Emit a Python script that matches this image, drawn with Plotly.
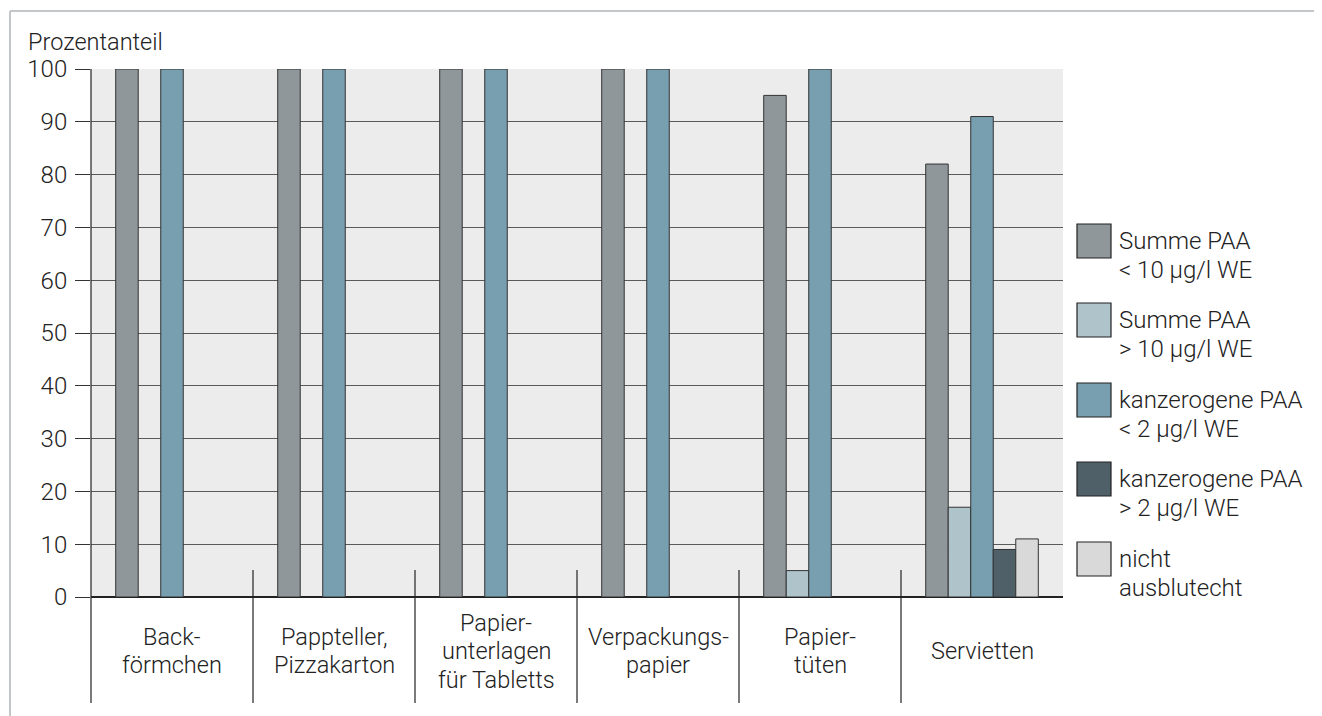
import plotly.graph_objects as go

categories = ["Back-\nförmchen", "Pappteller,\nPizzakarton", "Papier-\nunterlagen\nfür Tabletts",
              "Verpackungs-\npapier", "Papier-\ntüten", "Servietten"]
series_names = ["Summe PAA\n< 10 µg/l WE", "Summe PAA\n> 10 µg/l WE", "kanzerogene PAA\n< 2 µg/l WE",
                "kanzerogene PAA\n> 2 µg/l WE", "nicht\nausblutecht"]
summe_lt10 = [100, 100, 100, 100, 95, 82]
summe_gt10 = [None, None, None, None, 5, 17]
kanz_lt2 = [100, 100, 100, 100, 100, 91]
kanz_gt2 = [None, None, None, None, None, 9]
nicht_ausblutecht = [None, None, None, None, None, 11]
series_values = [summe_lt10, summe_gt10, kanz_lt2, kanz_gt2, nicht_ausblutecht]
colors = ["#8f979a", "#afc3cb", "#789faf", "#4f6068", "#d9d9d9"]
y_ticks = [0, 10, 20, 30, 40, 50, 60, 70, 80, 90, 100]

W, H = 1322, 716
OFF = 8  # page body margin
L, R, T, B = 91 - OFF, 1063 - OFF, 69 - OFF, 597 - OFF
pw, ph = R - L, B - T
FONT = "Roboto"
TXT = "#222222"

def px(x):
    return (x - OFF - L) / pw

def py(y):
    return (B - (y - OFF)) / ph

cat_keys = [c.replace("\n", " ") for c in categories]

fig = go.Figure()
for name, vals, col in zip(series_names, series_values, colors):
    fig.add_trace(go.Bar(
        x=cat_keys, y=vals, name=name.replace("\n", " "),
        marker=dict(color=col, line=dict(color="#333333", width=1)),
        showlegend=False,
    ))

shapes = []
annotations = []

# outer frame (top and left)
shapes.append(dict(type="line", xref="paper", yref="paper", x0=px(10), x1=px(W + 20), y0=py(11), y1=py(11),
                   line=dict(color="#c3c7c9", width=2)))
shapes.append(dict(type="line", xref="paper", yref="paper", x0=px(10), x1=px(10), y0=py(11), y1=py(H + 20),
                   line=dict(color="#c3c7c9", width=2)))

# category dividers
n = len(categories)
shapes.append(dict(type="line", xref="paper", yref="paper", x0=0, x1=0, y0=1, y1=py(703),
                   line=dict(color="#222222", width=1.2)))
for i in range(1, n):
    shapes.append(dict(type="line", xref="paper", yref="paper", x0=i / n, x1=i / n, y0=py(570), y1=py(703),
                       line=dict(color="#222222", width=1.2)))

# category labels
for i, c in enumerate(categories):
    lines = c.split("\n")
    k = len(lines)
    for j, ln in enumerate(lines):
        cy = 651 + (j - (k - 1) / 2) * 28.5
        annotations.append(dict(text=ln, xref="paper", yref="paper", x=(i + 0.5) / n, y=py(cy),
                                xanchor="center", yanchor="middle", showarrow=False,
                                font=dict(family=FONT, size=23.5, color=TXT, weight=300)))

# custom legend
box_tops = [224, 303, 383, 462, 542]
for name, col, top in zip(series_names, colors, box_tops):
    shapes.append(dict(type="rect", xref="paper", yref="paper", x0=px(1077), x1=px(1111),
                       y0=py(top), y1=py(top + 34), fillcolor=col, line=dict(color="#222222", width=1.2)))
    for j, ln in enumerate(name.split("\n")):
        annotations.append(dict(text=ln, xref="paper", yref="paper", x=px(1117), y=py(top + 17 + j * 29),
                                xanchor="left", yanchor="middle", showarrow=False,
                                font=dict(family=FONT, size=24, color=TXT, weight=300)))

# y-axis title
annotations.append(dict(text="Prozentanteil", xref="paper", yref="paper", x=px(26), y=py(42),
                        xanchor="left", yanchor="middle", showarrow=False,
                        font=dict(family=FONT, size=23.5, color=TXT, weight=300)))

fig.update_layout(
    width=W, height=H,
    margin=dict(l=L, r=W - R, t=T, b=H - B),
    paper_bgcolor="white", plot_bgcolor="#ececec",
    barmode="group", bargap=0.305, bargroupgap=0,
    shapes=shapes, annotations=annotations,
    font=dict(family=FONT, color=TXT),
)
fig.update_xaxes(showticklabels=False, showgrid=False, ticks="", showline=False, zeroline=False)
fig.update_yaxes(range=[0, 100], tickvals=y_ticks, ticktext=[str(v) for v in y_ticks],
                 showgrid=True, gridcolor="#5a5a5a", gridwidth=1.2,
                 ticks="outside", ticklen=15, tickcolor="#333333", tickwidth=1.2,
                 ticklabelstandoff=3,
                 tickfont=dict(family=FONT, size=24, color=TXT, weight=300),
                 showline=False, zeroline=True, zerolinecolor="#222222", zerolinewidth=1.5)

fig.write_html("out.html")
